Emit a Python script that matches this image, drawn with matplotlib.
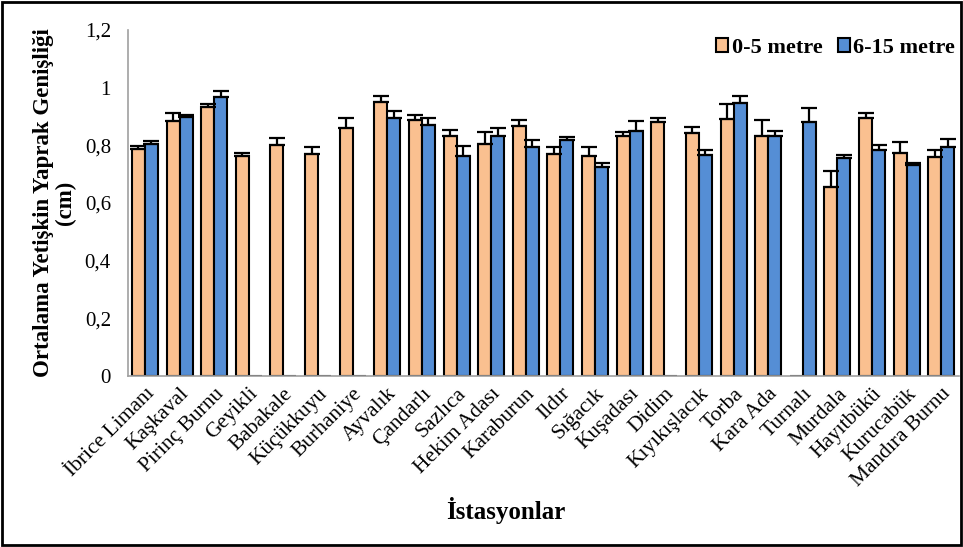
import numpy as np
import matplotlib
matplotlib.use("Agg")
import matplotlib.pyplot as plt
from matplotlib.patches import Rectangle

plt.rcParams['font.family'] = ['Liberation Serif', 'DejaVu Serif']

stations = ["İbrice Limanı", "Kaşkaval", "Pirinç Burnu", "Geyikli", "Babakale",
            "Küçükkuyu", "Burhaniye", "Ayvalık", "Çandarlı", "Sazlıca",
            "Hekim Adası", "Karaburun", "Ildır", "Sığacık", "Kuşadası", "Didim",
            "Kıyıkışlacık", "Torba", "Kara Ada", "Turnalı", "Murdala",
            "Hayıtbükü", "Kurucabük", "Mandıra Burnu"]
nan = np.nan
shallow = [0.786, 0.886, 0.933, 0.762, 0.801, 0.769, 0.861, 0.949, 0.887, 0.832,
           0.804, 0.868, 0.769, 0.764, 0.832, 0.880, 0.843, 0.891, 0.831, nan,
           0.654, 0.895, 0.772, 0.761]
shallow_err = [0.012, 0.026, 0.012, 0.011, 0.023, 0.024, 0.033, 0.023, 0.018, 0.021,
               0.043, 0.020, 0.024, 0.031, 0.015, 0.016, 0.022, 0.054, 0.056, nan,
               0.056, 0.018, 0.040, 0.024]
deep = [0.805, 0.897, 0.967, nan, nan, nan, nan, 0.895, 0.871, 0.764,
        0.832, 0.793, 0.820, 0.726, 0.849, nan, 0.768, 0.946, 0.832, 0.880,
        0.755, 0.783, 0.731, 0.795]
deep_err = [0.009, 0.009, 0.022, nan, nan, nan, nan, 0.024, 0.023, 0.035,
            0.029, 0.027, 0.009, 0.013, 0.035, nan, 0.015, 0.024, 0.019, 0.050,
            0.013, 0.018, 0.008, 0.026]
yticks = [0, 0.2, 0.4, 0.6, 0.8, 1.0, 1.2]
ytick_labels = ["0", "0,2", "0,4", "0,6", "0,8", "1", "1,2"]

orange = "#FAC090"
blue = "#558ED5"

fig = plt.figure(figsize=(9.63, 5.47), dpi=100)
ax = fig.add_axes([0.1325, 0.3126, 0.863, 0.6326])

x = np.arange(len(stations))
w = 0.375
ekw = dict(elinewidth=1.6, capthick=1.6, ecolor="black")

s = np.array(shallow, dtype=float)
d = np.array(deep, dtype=float)
ax.bar(x - w/2, np.nan_to_num(s), w, color=orange, edgecolor="black", linewidth=1.5,
       label="0-5 metre", zorder=2)
ax.bar(x + w/2, np.nan_to_num(d), w, color=blue, edgecolor="black", linewidth=1.5,
       label="6-15 metre", zorder=2)
ms = ~np.isnan(s)
md = ~np.isnan(d)
ax.errorbar((x - w/2)[ms], s[ms], yerr=[np.zeros(ms.sum()), np.array(shallow_err)[ms]],
            fmt="none", capsize=6, zorder=3, **ekw)
ax.errorbar((x + w/2)[md], d[md], yerr=[np.zeros(md.sum()), np.array(deep_err)[md]],
            fmt="none", capsize=6, zorder=3, **ekw)

ax.set_xlim(-0.5, len(stations) - 0.5)
ax.set_ylim(0, 1.2)
ax.set_yticks(yticks)
ax.set_yticklabels(ytick_labels, fontsize=15)
ax.tick_params(axis="y", length=0, pad=12)
ax.set_xticks(x)
ax.set_xticklabels(stations, rotation=45, ha="right", rotation_mode="anchor", fontsize=15.5)
ax.tick_params(axis="x", length=0, pad=6)
for sp in ["top", "right"]:
    ax.spines[sp].set_visible(False)
for sp in ["left", "bottom"]:
    ax.spines[sp].set_color("#A0A0A0")
    ax.spines[sp].set_linewidth(1.2)

ax.set_ylabel("Ortalama Yetişkin Yaprak Genişliği\n(cm)", fontsize=16.5,
              fontweight="bold", linespacing=1.05, labelpad=6)
fig.text(0.525, 0.052, "İstasyonlar", fontsize=18, fontweight="bold", ha="center")

leg = ax.legend(loc="upper right", bbox_to_anchor=(1.02, 1.035), ncol=2, frameon=False,
                prop={"weight": "bold", "size": 16}, handlelength=0.55, handleheight=0.55,
                handletextpad=0.15, columnspacing=0.7)
for h in leg.legend_handles:
    h.set_linewidth(1.5)

fig.patches.append(Rectangle((0.002, 0.003), 0.996, 0.994, transform=fig.transFigure,
                             fill=False, edgecolor="black", linewidth=2))

fig.savefig("out.png", dpi=100)
